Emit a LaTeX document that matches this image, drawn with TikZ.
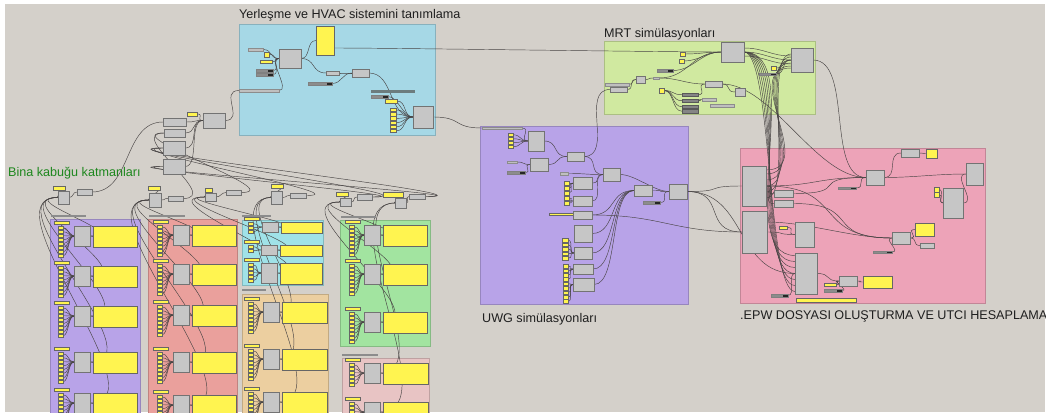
\documentclass[tikz,border=0pt]{standalone}
\usepackage{fontspec}
\newfontfamily\arial{Liberation Sans}
\definecolor{Canvas}{RGB}{212,208,202}
\definecolor{HvacBlue}{RGB}{166,216,230}
\definecolor{MrtGreen}{RGB}{208,233,160}
\definecolor{UwgPurple}{RGB}{184,163,232}
\definecolor{EpwPink}{RGB}{237,163,184}
\definecolor{KatPurple}{RGB}{184,163,232}
\definecolor{KatRed}{RGB}{234,160,156}
\definecolor{KatCyan}{RGB}{160,226,232}
\definecolor{KatTan}{RGB}{236,207,160}
\definecolor{KatGreen}{RGB}{162,228,160}
\definecolor{KatPink}{RGB}{232,196,196}
\definecolor{CompGray}{RGB}{198,198,198}
\definecolor{PanelYellow}{RGB}{255,244,80}
\definecolor{WireGray}{RGB}{72,68,68}
\definecolor{SlateBar}{RGB}{108,124,126}
\definecolor{LabelGreen}{RGB}{30,135,30}
\pgfdeclarelayer{groups}
\pgfdeclarelayer{wires}
\pgfsetlayers{groups,wires,main}
\tikzset{
  comp/.style={draw=black!55,fill=CompGray,line width=0.6pt,inner sep=0pt,outer sep=0pt},
  panel/.style={draw=black!60,fill=PanelYellow,line width=0.5pt,inner sep=0pt,outer sep=0pt},
  slider/.style={draw=black!50,fill=black!45,line width=0.4pt,inner sep=0pt,outer sep=0pt,
    path picture={\fill[black!85] ([xshift=-5pt]path picture bounding box.north east)
      rectangle (path picture bounding box.south east);}},
  lightbar/.style={draw=black!45,fill=black!25,line width=0.4pt,inner sep=0pt,outer sep=0pt},
  param/.style={draw=black!65,fill=black!48,line width=0.4pt,inner sep=0pt,outer sep=0pt},
  grouptag/.style={fill=black!45,inner sep=0pt,outer sep=0pt},
  wire/.style={draw=WireGray,line width=0.45pt},
  group/.style={line width=0.5pt},
  grptitle/.style={font=\arial\fontsize{12.6}{14}\selectfont,text=black!88,
    anchor=base west,inner sep=0pt}
}
% box from (x1,y1) to (x2,y2), y counted downwards
\newcommand{\bx}[6][comp]{\node[#1,minimum width={((#5)-(#3))*1pt},
  minimum height={((#6)-(#4))*1pt}] (#2) at ({((#3)+(#5))/2},{((#4)+(#6))/2}) {};}
\newcommand{\gwire}[3][20]{\draw[wire] (#2) .. controls +(#1,0) and +(-#1,0) .. (#3);}
\newcommand{\grp}[5]{\filldraw[group,fill=#1,draw=#1!82!black] (#2,#3) rectangle (#4,#5);}
% one layer row: name, stack x, top y, gray x, panel right, squares, height
\newcommand{\katman}[7]{%
  \bx[panel]{#1t}{(#2)-4}{#3}{(#2)+11}{(#3)+3.5}
  \foreach \s in {1,...,#6}{\bx[panel]{#1s\s}{#2}{(#3)+1+4*\s}{(#2)+5}{(#3)+4.4+4*\s}}
  \bx{#1g}{#4}{(#3)+5}{(#4)+16}{(#3)+5+(#7)}
  \bx[panel]{#1y}{(#4)+19}{(#3)+5}{#5}{(#3)+6+(#7)}}
\newcommand{\katwires}[2]{%
  \foreach \s in {1,...,#2}{\gwire[6]{#1s\s.east}{#1g.west}}
  \gwire[3]{#1g.east}{#1y.west}}

\begin{document}
\begin{tikzpicture}[x=1pt,y=-1pt]
\useasboundingbox (0,0) rectangle (1046,412);
\begin{pgfonlayer}{groups}
  \fill[white] (0,0) rectangle (1046,412);
  \fill[Canvas] (5,4) rectangle (1045,412);
  \grp{HvacBlue}{239}{24}{435}{135}
  \grp{MrtGreen}{604}{41}{815}{114}
  \grp{UwgPurple}{480}{126}{688}{304}
  \grp{EpwPink}{740}{148}{985}{303}
  \grp{KatPurple}{50}{219}{140}{420}
  \grp{KatRed}{148}{219}{237}{420}
  \grp{KatCyan}{242}{220}{323}{285}
  \grp{KatTan}{242}{294}{328}{420}
  \grp{KatGreen}{340}{220}{430}{346}
  \grp{KatPink}{342}{358}{429}{420}
\end{pgfonlayer}
\bx[grouptag]{tagPa}{51}{215}{86}{217}
\bx[grouptag]{tagRa}{149}{215}{185}{217}
\bx[grouptag]{tagCa}{242}{215}{271}{217}
\bx[grouptag]{tagTa}{242}{289}{266}{291}
\bx[grouptag]{tagGa}{341}{216}{376}{218}
\bx[grouptag]{tagPk}{342}{354}{378}{356}

\node[grptitle] (tHvac) at (239,19) {Yerleşme ve HVAC sistemini tanımlama};
\node[grptitle] (tMrt) at (604,37.5) {MRT simülasyonları};
\node[grptitle] (tUwg) at (482,322) {UWG simülasyonları};
\node[grptitle] (tEpw) at (740,319) {.EPW DOSYASI OLUŞTURMA VE UTCI HESAPLAMA};
\node[grptitle,text=LabelGreen] (tBina) at (8,176) {Bina kabuğu katmanları};

% HVAC
\bx[panel]{hvY}{316}{26}{334}{55}
\bx{hvG}{279}{49}{301}{68}
\bx[lightbar]{hvS1}{248}{48}{263}{51}
\bx[panel]{hvY1}{264}{52}{269}{57}
\bx[panel]{hvY2}{260}{60}{272}{63}
\bx[slider]{hvS2}{256}{69}{273}{72}
\bx[slider]{hvS3}{256}{73}{273}{76}
\bx[lightbar]{hvS4}{239}{89}{279}{92}
\bx{hvG2}{326}{71}{339}{75}
\bx{hvG3}{352}{69}{369}{77}
\bx[slider]{hvS5}{308}{82}{332}{85}
\bx[grouptag,fill=SlateBar]{hvT}{371}{90}{415}{93}
\bx[slider]{hvS6}{371}{95}{388}{98}
\bx[panel]{hvY3}{385}{99}{397}{103}
\foreach \s in {1,...,6}{\bx[panel]{hvK\s}{390}{104+4.2*\s}{396}{107.5+4.2*\s}}
\bx{hvG4}{413}{106}{433}{128}

% left cluster
\bx[panel]{lcY}{187}{112}{197}{116}
\bx{lcG}{203}{113}{225}{128}
\bx{lcM1}{163}{118}{186}{126}
\bx{lcM2}{164}{129}{185}{137}
\bx{lcM3}{163}{141}{185}{155}
\bx{lcM4}{163}{159}{185}{174}
\bx[panel]{kA1}{53}{186}{65}{190}   \bx{kA2}{58}{191}{69}{204}   \bx{kA3}{77}{189}{92}{195}
\bx[panel]{kB1}{148}{186}{160}{190} \bx{kB2}{149}{193}{161}{207} \bx{kB3}{168}{196}{183}{201}
\bx[panel]{kC1}{205}{188}{212}{192} \bx{kC2}{205}{193}{216}{201} \bx{kC3}{226}{190}{241}{195}
\bx[panel]{kD1}{271}{184}{283}{188} \bx{kD2}{271}{191}{282}{204} \bx{kD3}{290}{193}{306}{198}
\bx[panel]{kE1}{336}{192}{348}{196} \bx{kE2}{340}{198}{351}{206} \bx{kE3}{357}{194}{372}{200}
\bx[panel]{kF1}{383}{192}{403}{197} \bx{kF2}{395}{198}{406}{208} \bx{kF3}{409}{194}{425}{199}

% layer rows
\foreach \rw/\ty in {1/221,2/261,3/301,4/347,5/388}{\katman{pa\rw}{58}{\ty}{74}{137}{8}{20}}
\foreach \rw/\ty in {1/220,2/259,3/300,4/347,5/390}{\katman{ra\rw}{157}{\ty}{173}{236}{8}{20}}
\katman{ca1}{248}{217}{262}{322}{3}{10}
\katman{ca2}{248}{240}{261}{322}{2}{10}
\katman{ca3}{248}{258}{261}{322}{5}{20}
\foreach \rw/\ty in {1/297,2/344,3/387}{\katman{ta\rw}{248}{\ty}{263}{327}{8}{20}}
\foreach \rw/\ty in {1/220,2/259,3/307}{\katman{ga\rw}{349}{\ty}{364}{427}{8}{20}}
\foreach \rw/\ty in {1/358,2/397}{\katman{pk\rw}{349}{\ty}{364}{428}{6}{20}}

% MRT
\bx{mrA}{721}{42}{744}{62}
\bx{mrB}{791}{48}{813}{72}
\bx[panel]{mrY1}{680}{52}{685}{56}
\bx[panel]{mrY2}{679}{59}{684}{63}
\bx[slider]{mrS1}{657}{69}{673}{72}
\bx{mrG1}{636}{76}{645}{83}
\bx[lightbar]{mrS2}{653}{77}{659}{79}
\bx[lightbar]{mrS3}{605}{83}{629}{86}
\bx{mrG2}{610}{87}{627}{92}
\bx{mrG3}{705}{81}{722}{87}
\bx{mrG4}{735}{88}{745}{96}
\bx[panel]{mrY3}{659}{88}{664}{93}
\foreach \s/\y in {4/93,5/99,6/105,7/109.5}{\bx[param]{mrS\s}{682}{\y}{698}{\y+3.5}}
\bx[lightbar]{mrG5}{702}{98}{716}{101}
\bx[lightbar]{mrS8}{710}{104}{734}{107}
\bx[panel]{mrY4}{771}{66}{776}{70}
\bx[slider]{mrS9}{759}{73}{776}{75}

% UWG
\bx[lightbar]{uwT}{482}{127}{522}{129}
\foreach \s in {1,...,4}{\bx[panel]{uwKa\s}{508}{129+4*\s}{513}{132.5+4*\s}}
\bx{uwG1}{528}{131}{544}{151}
\bx{uwG2}{567}{152}{584}{161}
\bx[lightbar]{uwS1}{507}{161}{517}{163}
\bx{uwG3}{530}{158}{548}{171}
\bx[slider]{uwS2}{507}{171}{525}{174}
\bx[lightbar]{uwS3}{560}{172}{568}{175}
\bx{uwG4}{603}{168}{620}{181}
\foreach \s in {1,...,5}{\bx[panel]{uwKb\s}{564}{176+5*\s}{569}{180+5*\s}}
\bx{uwG5}{573}{177}{592}{189}
\bx{uwG6}{573}{196}{592}{206}
\bx{uwG7}{634}{185}{652}{196}
\bx{uwG8}{669}{184}{687}{199}
\bx[slider]{uwS4}{643}{201}{660}{204}
\bx[panel]{uwY1}{549}{213}{573}{215}
\bx{uwG9}{573}{211}{592}{219}
\bx{uwG10}{574}{225}{592}{242}
\foreach \s in {1,...,5}{\bx[panel]{uwKc\s}{562}{234+4.5*\s}{568}{237.5+4.5*\s}}
\bx{uwG11}{574}{247}{592}{259}
\bx{uwG12}{573}{264}{593}{274}
\foreach \s in {1,...,9}{\bx[panel]{uwKd\s}{563}{260+4.4*\s}{568}{263.6+4.4*\s}}
\bx{uwG13}{573}{278}{594}{291}

% EPW
\bx{epA}{742}{166}{766}{206}
\bx{epB}{742}{211}{767}{253}
\bx{epC}{774}{190}{793}{197}
\bx{epD}{774}{200}{793}{207}
\bx[panel]{epY1}{779}{226}{787}{229}
\bx{epE}{795}{222}{814}{247}
\bx{epF}{795}{253}{817}{294}
\bx[slider]{epS1}{771}{294}{788}{297}
\bx[panel]{epY2}{796}{298}{856}{302}
\bx[panel]{epY3}{824}{283}{836}{286}
\bx[slider]{epS2}{824}{289}{842}{292}
\bx{epG1}{839}{276}{857}{286}
\bx[panel]{epY4}{863}{276}{892}{288}
\bx{epG2}{866}{170}{884}{185}
\bx[slider]{epS3}{838}{187}{856}{189}
\bx{epG3}{901}{149}{919}{157}
\bx[panel]{epY5}{926}{149}{937}{158}
\bx{epG4}{966}{163}{983}{185}
\bx{epG5}{943}{188}{963}{218}
\bx[panel]{epY6}{934}{187}{939}{192}
\bx[panel]{epY7}{934}{192}{939}{197}
\bx{epG6}{892}{232}{910}{244}
\bx[panel]{epY8}{915}{223}{934}{236}
\bx{epG7}{920}{243}{934}{248}
\bx[slider]{epS4}{873}{251}{892}{253}

\begin{pgfonlayer}{wires}
% layer rows
\foreach \rw in {1,...,5}{\katwires{pa\rw}{8}\katwires{ra\rw}{8}}
\katwires{ca1}{3}\katwires{ca2}{2}\katwires{ca3}{5}
\foreach \rw in {1,2,3}{\katwires{ta\rw}{8}\katwires{ga\rw}{8}}
\foreach \rw in {1,2}{\katwires{pk\rw}{6}}
\foreach \rw/\d in {1/45,2/55,3/62,4/70,5/75}{\gwire[\d]{pa\rw g.east}{kA2.west}\gwire[\d]{ra\rw g.east}{kB2.west}}
\foreach \rw/\d in {1/45,2/55,3/65}{\gwire[\d]{ca\rw g.east}{kC2.west}\gwire[\d]{ta\rw g.east}{kD2.west}
  \gwire[\d]{ga\rw g.east}{kE2.west}}
\foreach \rw/\d in {1/60,2/70}{\gwire[\d]{pk\rw g.east}{kF2.west}}
\foreach \k in {A,B,C,D,E,F}{\gwire[5]{k\k2.east}{k\k3.west}\gwire[4]{k\k1.east}{k\k2.west}}
% left cluster
\gwire[40]{kA3.east}{lcM1.west}
\gwire[40]{kB3.east}{lcM2.west}
\gwire[50]{kC3.east}{lcM2.west}
\gwire[60]{kD3.east}{lcM3.west}
\gwire[80]{kE3.east}{lcM3.west}
\gwire[70]{kE3.east}{lcM4.west}
\gwire[90]{kF3.east}{lcM3.west}
\gwire[90]{kF3.east}{lcM4.west}
\gwire[12]{lcM1.east}{lcG.west}
\gwire[12]{lcM2.east}{lcG.west}
\gwire[15]{lcM3.east}{lcG.west}
\gwire[15]{lcM4.east}{lcG.west}
\gwire[8]{lcY.east}{lcG.west}
\gwire[20]{lcG.east}{hvS4.west}
% HVAC
\gwire[10]{hvS1.east}{hvG.west}
\gwire[8]{hvY1.east}{hvG.west}
\gwire[8]{hvY2.east}{hvG.west}
\gwire[8]{hvS2.east}{hvG.west}
\gwire[8]{hvS3.east}{hvG.west}
\gwire[12]{hvS4.east}{hvG.west}
\gwire[10]{hvG.east}{hvY.west}
\gwire[15]{hvG.east}{hvG2.west}
\gwire[8]{hvG2.east}{hvG3.west}
\gwire[10]{hvS5.east}{hvG3.west}
\gwire[25]{hvG3.east}{hvG4.west}
\foreach \s in {1,...,6}{\gwire[10]{hvK\s.east}{hvG4.west}}
\gwire[10]{hvY3.east}{hvG4.west}
\gwire[10]{hvS6.east}{hvG4.west}
\gwire[30]{hvG4.east}{uwT.west}
\gwire[60]{[yshift=7pt]hvY.south east}{mrA.west}
% MRT
\gwire[8]{mrG2.east}{mrG1.west}
\gwire[5]{mrS3.east}{mrG1.west}
\gwire[5]{mrG1.east}{mrS2.west}
\gwire[30]{mrS2.east}{mrA.west}
\gwire[20]{mrS2.east}{mrG3.west}
\gwire[15]{mrY1.east}{mrA.west}
\gwire[15]{mrY2.east}{mrA.west}
\gwire[20]{mrS1.east}{mrA.west}
\foreach \s in {4,...,7}{\gwire[10]{mrY3.east}{mrS\s.west}}
\gwire[10]{mrS4.east}{mrG3.west}
\gwire[6]{mrS5.east}{mrG5.west}
\gwire[10]{mrG3.east}{mrG4.west}
\foreach \o in {-4,0,4}{\gwire[20]{[yshift=\o pt]mrA.east}{[yshift=\o pt]mrB.west}}
\gwire[10]{mrY4.east}{mrB.west}
\gwire[10]{mrS9.east}{mrB.west}
\gwire[30]{uwG2.east}{mrG2.west}
\gwire[40]{mrB.east}{epG2.west}
\gwire[50]{mrG3.east}{epG2.west}
\foreach \a/\b/\d in {-12/6/28,-6/3/33,0/0/38,6/-3/43,12/-6/48,16/-8/53}{\gwire[\d]{[yshift=\a pt]epA.east}{[yshift=\b pt]mrB.west}}
\foreach \o/\d in {-18/28,-12/34,-6/40,0/46,6/52,12/58,18/64}{\gwire[\d]{mrA.east}{[yshift=\o pt]epF.west}}
% UWG
\gwire[10]{uwT.east}{uwG1.west}
\foreach \s in {1,...,4}{\gwire[8]{uwKa\s.east}{uwG1.west}}
\gwire[15]{uwG1.east}{uwG2.west}
\gwire[8]{uwS1.east}{uwG3.west}
\gwire[8]{uwS2.east}{uwG3.west}
\gwire[12]{uwG3.east}{uwG2.west}
\gwire[15]{uwG2.east}{uwG4.west}
\gwire[20]{uwS3.east}{uwG4.west}
\gwire[10]{uwG5.east}{uwG4.west}
\gwire[12]{uwG6.east}{uwG4.west}
\foreach \s in {1,2,3}{\gwire[6]{uwKb\s.east}{uwG5.west}}
\foreach \s in {4,5}{\gwire[6]{uwKb\s.east}{uwG6.west}}
\gwire[15]{uwG4.east}{uwG8.west}
\gwire[20]{uwG7.east}{uwG8.west}
\gwire[10]{uwS4.east}{uwG8.west}
\gwire[5]{uwY1.east}{uwG9.west}
\foreach \n in {9,...,13}{\gwire[25]{uwG\n.east}{uwG7.west}}
\foreach \s in {1,...,5}{\gwire[6]{uwKc\s.east}{uwG11.west}}
\foreach \s in {1,...,4}{\gwire[6]{uwKd\s.east}{uwG12.west}}
\foreach \s in {5,...,9}{\gwire[6]{uwKd\s.east}{uwG13.west}}
\gwire[40]{uwG8.east}{epA.west}
\gwire[40]{uwG8.east}{epB.west}
\gwire[70]{uwG9.east}{epB.west}
\gwire[60]{uwG8.east}{epF.west}
% EPW
\gwire[15]{epA.east}{epC.west}
\gwire[15]{epA.east}{epD.west}
\gwire[50]{epA.east}{epG2.west}
\gwire[60]{epC.east}{epG2.west}
\gwire[80]{epA.east}{epG6.west}
\gwire[70]{epD.east}{epG6.west}
\gwire[40]{[yshift=10pt]epB.east}{epG6.west}
\gwire[10]{epS3.east}{epG2.west}
\gwire[15]{epG2.east}{epG3.west}
\gwire[6]{epG3.east}{epY5.west}
\gwire[30]{epG2.east}{epG4.west}
\gwire[15]{epG5.east}{epG4.west}
\gwire[6]{epY6.east}{epG5.west}
\gwire[6]{epY7.east}{epG5.west}
\gwire[10]{epG6.east}{epY8.west}
\gwire[8]{epG6.east}{epG7.west}
\gwire[10]{epS4.east}{epG6.west}
\gwire[15]{epF.east}{epG1.west}
\gwire[8]{epY3.east}{epG1.west}
\gwire[8]{epS2.east}{epG1.west}
\gwire[8]{epG1.east}{epY4.west}
\gwire[10]{epY1.east}{epE.west}
\gwire[20]{epB.east}{epE.west}
\gwire[8]{epS1.east}{epF.west}
\end{pgfonlayer}
\end{tikzpicture}
\end{document}
